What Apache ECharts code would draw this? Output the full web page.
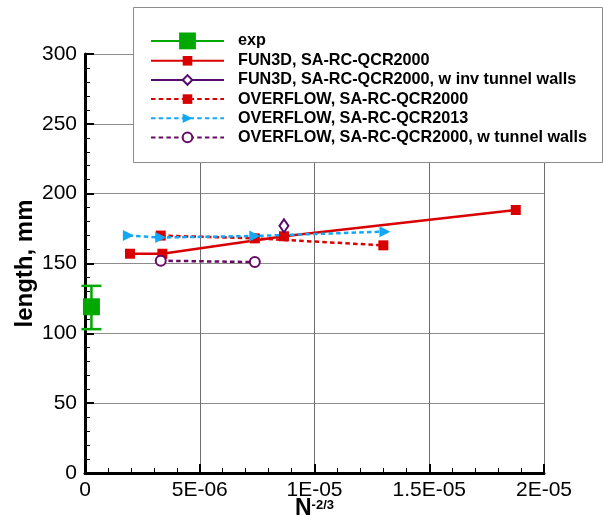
<!DOCTYPE html>
<html>
<head>
<meta charset="utf-8">
<script src="https://cdn.jsdelivr.net/npm/echarts@6.0.0/dist/echarts.min.js"></script>
<style>
html,body{margin:0;padding:0;background:#fff;}
#chart{width:603px;height:521px;}
</style>
</head>
<body>
<div id="chart"></div>
<script>
// ---- data ----
const seriesNames = [
  'exp',
  'FUN3D, SA-RC-QCR2000',
  'FUN3D, SA-RC-QCR2000, w inv tunnel walls',
  'OVERFLOW, SA-RC-QCR2000',
  'OVERFLOW, SA-RC-QCR2013',
  'OVERFLOW, SA-RC-QCR2000, w tunnel walls'
];
const expX = [2.8e-7];
const expY = [119];
const expLow = [103];
const expHigh = [134];

const fun3dX = [1.96e-6, 3.37e-6, 8.67e-6, 1.877e-5];
const fun3dY = [157, 157, 169.5, 188.3];

const fun3dWallsX = [8.67e-6];
const fun3dWallsY = [177];

const ovfl2000X = [3.3e-6, 7.4e-6, 1.3e-5];
const ovfl2000Y = [170, 168, 163];

const ovfl2013X = [1.89e-6, 3.3e-6, 7.4e-6, 1.307e-5];
const ovfl2013Y = [170, 168.6, 169.7, 172.8];

const ovflWallsX = [3.3e-6, 7.4e-6];
const ovflWallsY = [152, 151];

const xTickLabels = ['0', '5E-06', '1E-05', '1.5E-05', '2E-05'];
const yTickLabels = ['0', '50', '100', '150', '200', '250', '300'];

// ---- helpers ----
const pairs = (xs, ys) => xs.map((x, i) => [x, ys[i]]);
const FONT = '"Liberation Sans", Arial, Helvetica, sans-serif';
const GREEN = '#00a800', RED = '#d90000', PURPLE1 = '#560b6e', PURPLE2 = '#660a66', CYAN = '#12a8f7';
const DASH = [4.5, 3.2];

const chart = echarts.init(document.getElementById('chart'), null, {renderer: 'canvas'});

const option = {
  backgroundColor: '#fff',
  animation: false,
  textStyle: {fontFamily: FONT},
  grid: {left: 85, right: 59, top: 54, bottom: 48, containLabel: false, outerBoundsMode: 'none'},
  xAxis: {
    type: 'value', min: 0, max: 2e-5, interval: 5e-6,
    name: '{n|N}{s|-2/3}', nameLocation: 'middle', nameGap: 24, nameMoveOverlap: false,
    nameTextStyle: {
      rich: {
        n: {fontFamily: FONT, fontSize: 23, fontWeight: 'bold', color: '#000', verticalAlign: 'bottom'},
        s: {fontFamily: FONT, fontSize: 13, fontWeight: 'bold', color: '#000', verticalAlign: 'top', padding: [2, 0, 8, 0]}
      }
    },
    axisLine: {onZero: false, lineStyle: {color: '#000', width: 3}},
    axisTick: {inside: true, length: 9, lineStyle: {color: '#000', width: 2}},
    minorTick: {show: true, splitNumber: 5, length: 5, lineStyle: {color: '#000', width: 1}},
    axisLabel: {
      margin: 7, fontSize: 21, color: '#000', fontFamily: FONT,
      formatter: (v) => xTickLabels[Math.round(v / 5e-6)]
    },
    splitLine: {show: true, lineStyle: {color: '#6e6e6e', width: 1}}
  },
  yAxis: {
    type: 'value', min: 0, max: 300, interval: 50,
    name: 'length, mm', nameLocation: 'middle', nameGap: 48, nameRotate: 90, nameMoveOverlap: false,
    nameTextStyle: {fontFamily: FONT, fontSize: 24, fontWeight: 'bold', color: '#000'},
    axisLine: {onZero: false, lineStyle: {color: '#000', width: 3}},
    axisTick: {inside: true, length: 9, lineStyle: {color: '#000', width: 2}},
    minorTick: {show: true, splitNumber: 5, length: 5, lineStyle: {color: '#000', width: 1}},
    axisLabel: {
      margin: 8, fontSize: 21, color: '#000', fontFamily: FONT,
      formatter: (v) => yTickLabels[Math.round(v / 50)]
    },
    splitLine: {show: true, lineStyle: {color: '#8c8c8c', width: 1}}
  },
  graphic: [{
    type: 'rect', left: 133, top: 7, z: 5,
    shape: {width: 469, height: 155},
    style: {fill: '#fff', stroke: '#8c8c8c', lineWidth: 1}
  }],
  legend: [{
    data: [seriesNames[0]],
    left: 150, top: 32.5, padding: 0, z: 10,
    itemWidth: 73, itemHeight: 21, itemGap: 0,
    textStyle: {fontFamily: FONT, fontSize: 16.2, fontWeight: 'bold', color: '#000', padding: [0, 0, 0, 9]},
    selectedMode: false
  }, {
    data: seriesNames.slice(1),
    orient: 'vertical',
    left: 150, top: 52.8, padding: 0, z: 10,
    itemWidth: 73, itemHeight: 12, itemGap: 3.15,
    textStyle: {fontFamily: FONT, fontSize: 16.2, fontWeight: 'bold', color: '#000', lineHeight: 12, padding: [0, 0, 0, 9]},
    selectedMode: false
  }],
  series: [
    {
      type: 'custom', name: 'exp-errorbar', z: 3,
      data: expX.map((x, i) => [x, expLow[i], expHigh[i]]),
      renderItem: (params, api) => {
        const x = api.value(0);
        const pLo = api.coord([x, api.value(1)]);
        const pHi = api.coord([x, api.value(2)]);
        const hw = 10;
        const st = {stroke: GREEN, lineWidth: 2.5};
        return {type: 'group', children: [
          {type: 'line', shape: {x1: pLo[0], y1: pLo[1], x2: pHi[0], y2: pHi[1]}, style: st},
          {type: 'line', shape: {x1: pLo[0] - hw, y1: pLo[1], x2: pLo[0] + hw, y2: pLo[1]}, style: st},
          {type: 'line', shape: {x1: pHi[0] - hw, y1: pHi[1], x2: pHi[0] + hw, y2: pHi[1]}, style: st}
        ]};
      }
    },
    {
      type: 'line', name: seriesNames[0], z: 3,
      data: pairs(expX, expY),
      symbol: 'rect', symbolSize: 17,
      lineStyle: {color: GREEN, width: 2.5},
      itemStyle: {color: GREEN}
    },
    {
      type: 'line', name: seriesNames[1], z: 3,
      data: pairs(fun3dX, fun3dY),
      symbol: 'rect', symbolSize: 10,
      lineStyle: {color: RED, width: 2.5},
      itemStyle: {color: RED}
    },
    {
      type: 'line', name: seriesNames[2], z: 3,
      data: pairs(fun3dWallsX, fun3dWallsY),
      symbol: 'emptyDiamond', symbolSize: [9, 13],
      lineStyle: {color: PURPLE1, width: 2.5},
      itemStyle: {color: PURPLE1, borderColor: PURPLE1, borderWidth: 1.8}
    },
    {
      type: 'line', name: seriesNames[3], z: 3,
      data: pairs(ovfl2000X, ovfl2000Y),
      symbol: 'rect', symbolSize: 10,
      lineStyle: {color: RED, width: 2.5, type: DASH},
      itemStyle: {color: RED}
    },
    {
      type: 'line', name: seriesNames[4], z: 3,
      data: pairs(ovfl2013X, ovfl2013Y),
      symbol: 'triangle', symbolSize: 11, symbolRotate: -90,
      lineStyle: {color: CYAN, width: 2.5, type: DASH},
      itemStyle: {color: CYAN}
    },
    {
      type: 'line', name: seriesNames[5], z: 3,
      data: pairs(ovflWallsX, ovflWallsY),
      symbol: 'emptyCircle', symbolSize: 10,
      lineStyle: {color: PURPLE2, width: 2.5, type: DASH},
      itemStyle: {color: PURPLE2, borderColor: PURPLE2, borderWidth: 2}
    }
  ]
};
chart.setOption(option);
</script>
</body>
</html>
